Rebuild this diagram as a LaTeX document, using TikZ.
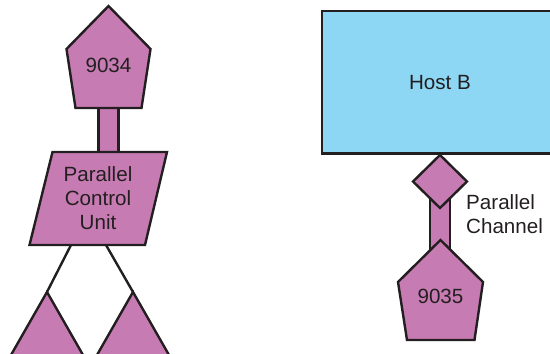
\documentclass[tikz,border=0pt]{standalone}
\usepackage{fontspec}
\setmainfont{Liberation Sans}
\definecolor{pinkfill}{HTML}{C77BB3}
\definecolor{bluefill}{HTML}{8DD7F5}
\definecolor{edgecol}{HTML}{231F20}
\begin{document}
\begin{tikzpicture}[x=1pt,y=-1pt,
  pinkshape/.style={fill=pinkfill,draw=edgecol,line width=2.4pt,line join=miter},
  blueshape/.style={fill=bluefill,draw=edgecol,line width=2.4pt},
  link/.style={draw=edgecol,line width=2.4pt},
  lbl/.style={font=\fontsize{20.6}{24}\selectfont,text=edgecol,align=center,inner sep=0pt}]
\useasboundingbox (0,0) rectangle (550,354);
\clip (0,0) rectangle (550,354);
% stems
\draw[pinkshape] (98.5,104) rectangle (118.5,153);
\draw[pinkshape] (430,195) rectangle (450,250);
% pentagon 9034
\draw[pinkshape] (108.5,6) -- (150.5,49) -- (141.5,108) -- (75.5,108) -- (66.5,49) -- cycle;
\node[lbl] (p9034) at (108.5,65) {9034};
% parallelogram
\draw[pinkshape] (52.5,152) -- (167,152) -- (145,245) -- (29.5,245) -- cycle;
\node[lbl] (pcu) at (98,198) {Parallel\\Control\\Unit};
% connectors to triangles
\coordinate (pcuL) at (71,245);
\coordinate (pcuR) at (106,245);
\coordinate (triL) at (47,292);
\coordinate (triR) at (133,292);
\draw[link] (pcuL) -- (triL);
\draw[link] (pcuR) -- (triR);
% triangles
\draw[pinkshape] (triL) -- (87,362) -- (7,362) -- cycle;
\draw[pinkshape] (triR) -- (173,362) -- (93,362) -- cycle;
% Host B
\draw[blueshape] (322,11) rectangle (570,153.5);
\node[lbl] (hostb) at (440,83) {Host B};
% diamond
\draw[pinkshape] (440,155) -- (467,181.5) -- (440,208) -- (413,181.5) -- cycle;
% pentagon 9035
\draw[pinkshape] (440.5,240) -- (483,282) -- (474.5,340) -- (407,340) -- (398,282) -- cycle;
\node[lbl] (p9035) at (440.5,296) {9035};
\node[lbl,align=left,anchor=west] (chan) at (466,214) {Parallel\\Channel};
\end{tikzpicture}
\end{document}
